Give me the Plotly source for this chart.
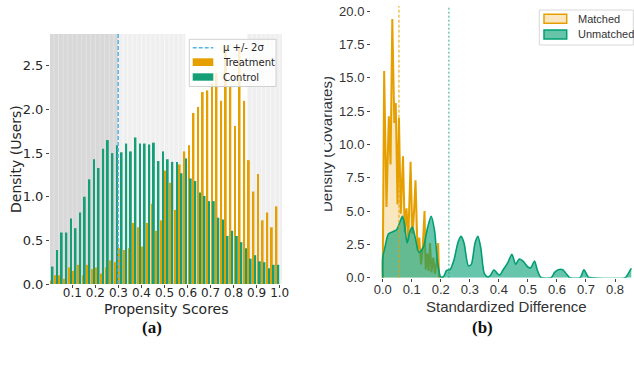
import plotly.graph_objects as go

W, H = 634, 367

# ---------------- Panel (a): propensity score histogram ----------------
bin_edges_start, bin_width, n_bins = 0.0, 0.02, 50
bin_centers = [round(bin_edges_start + bin_width * (i + 0.5), 4) for i in range(n_bins)]

treatment = [0.04, 0.10, 0.10, 0.06, 0.19, 0.15, 0.22, 0.10, 0.22, 0.17,
             0.19, 0.12, 0.19, 0.27, 0.25, 0.41, 0.39, 0.41, 0.70, 0.65,
             0.43, 0.70, 0.92, 0.61, 0.73, 1.30, 1.16, 0.85, 1.37, 1.52,
             1.59, 1.96, 2.03, 2.20, 2.22, 2.30, 2.42, 2.10, 2.73, 2.27,
             1.81, 2.72, 2.10, 1.42, 1.06, 1.26, 0.73, 0.82, 0.65, 0.89]
control = [0.20, 0.39, 0.59, 0.59, 0.75, 0.64, 0.82, 1.00, 1.20, 1.43,
           1.33, 1.55, 1.65, 1.50, 1.59, 1.51, 1.61, 1.52, 1.68, 1.61,
           1.61, 1.60, 1.62, 1.41, 1.52, 1.43, 1.40, 1.40, 1.27, 1.44,
           1.21, 1.18, 1.05, 1.01, 0.95, 0.95, 0.76, 0.74, 0.55, 0.61,
           0.55, 0.48, 0.41, 0.29, 0.33, 0.26, 0.25, 0.18, 0.22, 0.22]

mu_minus_2sigma = 0.299
dark_regions = [(0.0, 0.299)]
light_regions = [(0.299, 0.59), (0.86, 1.02)]
y_ticks_a = [0.0, 0.5, 1.0, 1.5, 2.0, 2.5]
x_ticks_a = [0.1, 0.2, 0.3, 0.4, 0.5, 0.6, 0.7, 0.8, 0.9, 1.0]
x_range_a = [0.003, 1.01]
y_range_a = [0, 2.866]

# ---------------- Panel (b): standardized difference densities ----------------
matched_x = [0.0, 0.005, 0.013, 0.021, 0.027, 0.033, 0.040, 0.045, 0.051, 0.056,
             0.062, 0.070, 0.076, 0.082, 0.088, 0.096, 0.102, 0.108, 0.113, 0.120,
             0.126, 0.132, 0.138, 0.144, 0.148, 0.153, 0.158, 0.163, 0.168, 0.174,
             0.180, 0.186, 0.191, 0.194]
matched_y = [0.0, 15.5, 5.3, 12.1, 8.5, 19.4, 11.6, 13.1, 5.5, 12.0,
             4.8, 9.1, 3.4, 5.2, 2.8, 8.7, 3.3, 5.0, 7.3, 2.0,
             3.0, 1.0, 2.3, 5.0, 0.6, 1.8, 0.5, 2.6, 0.4, 1.5,
             0.3, 1.2, 2.6, 0.0]
unmatched_x = [0.0, 0.0, 0.008, 0.020, 0.035, 0.048, 0.058, 0.068, 0.076, 0.084,
               0.094, 0.102, 0.112, 0.125, 0.140, 0.155, 0.167, 0.178, 0.190, 0.200,
               0.210, 0.220, 0.232, 0.245, 0.260, 0.270, 0.280, 0.295, 0.305, 0.318,
               0.328, 0.338, 0.350, 0.362, 0.372, 0.383, 0.395, 0.403, 0.415, 0.430,
               0.445, 0.458, 0.470, 0.485, 0.500, 0.510, 0.523, 0.532, 0.545, 0.580,
               0.592, 0.605, 0.620, 0.632, 0.645, 0.680, 0.693, 0.708, 0.720, 0.835,
               0.848, 0.856]
unmatched_y = [0.0, 1.5, 2.3, 3.3, 3.45, 3.6, 4.1, 4.6, 3.9, 2.6,
               3.5, 3.8, 3.0, 1.9, 2.3, 3.8, 4.6, 3.6, 1.0, 0.05,
               0.1, 0.55, 0.6, 1.3, 2.7, 3.1, 2.6, 0.9, 1.0, 2.6,
               3.1, 2.2, 0.3, 0.05, 0.2, 0.6, 0.3, 0.2, 0.6, 1.1,
               1.75, 1.0, 1.4, 1.2, 0.8, 0.75, 1.25, 0.6, 0.02, 0.0,
               0.4, 0.6, 0.6, 0.3, 0.0, 0.0, 0.6, 0.05, 0.0, 0.0,
               0.4, 0.7]
matched_mean = 0.056
unmatched_mean = 0.228
x_range_b = [-0.0403, 0.8654]
y_range_b = [0, 20.38]

ORANGE = "#E69F00"
GREEN_BAR = "#149F77"
GREEN = "#009E73"
SKY = "#56B4E9"
TXT = "#262626"


def px(xp):
    return xp / W


def py(yp):
    return 1 - yp / H


fig = go.Figure()

# Panel (a) bars
fig.add_trace(go.Bar(x=bin_centers, y=treatment, name="Treatment", marker=dict(color=ORANGE, line=dict(width=0)),
                     xaxis="x", yaxis="y", showlegend=False))
fig.add_trace(go.Bar(x=bin_centers, y=control, name="Control", marker=dict(color=GREEN_BAR, line=dict(width=0)),
                     xaxis="x", yaxis="y", showlegend=False))
fig.add_trace(go.Scatter(x=[mu_minus_2sigma, mu_minus_2sigma], y=y_range_a, mode="lines", name="μ +/- 2σ",
                         line=dict(color=SKY, width=1.5, dash="4px,2px"), xaxis="x", yaxis="y", showlegend=False))

# Panel (b) densities
fig.add_trace(go.Scatter(x=matched_x, y=matched_y, mode="lines", name="Matched", fill="tozeroy",
                         fillcolor="rgba(230,159,0,0.25)", line=dict(color=ORANGE, width=2),
                         xaxis="x2", yaxis="y2", showlegend=False))
fig.add_trace(go.Scatter(x=unmatched_x, y=unmatched_y, mode="lines", name="Unmatched", fill="tozeroy",
                         fillcolor="rgba(0,158,115,0.6)", line=dict(color=GREEN, width=1.6, shape="spline", smoothing=0.7),
                         xaxis="x2", yaxis="y2", showlegend=False))

shapes = []
# shaded regions with bin stripes (panel a)
for (a, b) in dark_regions:
    shapes.append(dict(type="rect", xref="x", yref="y domain", x0=a, x1=b, y0=0, y1=1,
                       fillcolor="#d8d8d8", line=dict(width=0), layer="below"))
for (a, b) in light_regions:
    shapes.append(dict(type="rect", xref="x", yref="y domain", x0=a, x1=b, y0=0, y1=1,
                       fillcolor="#efefef", line=dict(width=0), layer="below"))
for i in range(n_bins + 1):
    e = bin_edges_start + bin_width * i
    for (a, b) in dark_regions:
        if a < e < b:
            shapes.append(dict(type="line", xref="x", yref="y domain", x0=e, x1=e, y0=0, y1=1,
                               line=dict(color="#e2e2e2", width=1), layer="below"))
    for (a, b) in light_regions:
        if a < e < b:
            shapes.append(dict(type="line", xref="x", yref="y domain", x0=e, x1=e, y0=0, y1=1,
                               line=dict(color="#f7f7f7", width=1), layer="below"))

# mean lines (panel b)
shapes.append(dict(type="line", xref="x2", yref="y2 domain", x0=matched_mean, x1=matched_mean, y0=0, y1=1,
                   line=dict(color=ORANGE, width=1, dash="3px,2px"), layer="above"))
shapes.append(dict(type="line", xref="x2", yref="y2 domain", x0=unmatched_mean, x1=unmatched_mean, y0=0, y1=1,
                   line=dict(color="#2aa886", width=1, dash="2px,2px"), layer="above"))

# legend (a)
shapes.append(dict(type="rect", xref="paper", yref="paper", x0=px(189.3), x1=px(276), y0=py(39.3), y1=py(86.5),
                   fillcolor="rgba(255,255,255,0.8)", line=dict(color="#d0d0d0", width=1), layer="above"))
shapes.append(dict(type="line", xref="paper", yref="paper", x0=px(192.7), x1=px(213.3), y0=py(47.7), y1=py(47.7),
                   line=dict(color=SKY, width=1.5, dash="4px,2px"), layer="above"))
shapes.append(dict(type="rect", xref="paper", yref="paper", x0=px(192.7), x1=px(213.3), y0=py(58.3), y1=py(66),
                   fillcolor=ORANGE, line=dict(width=0), layer="above"))
shapes.append(dict(type="rect", xref="paper", yref="paper", x0=px(192.7), x1=px(213.3), y0=py(73.3), y1=py(80.7),
                   fillcolor=GREEN_BAR, line=dict(width=0), layer="above"))
# legend (b)
shapes.append(dict(type="rect", xref="paper", yref="paper", x0=px(539.3), x1=px(633.3), y0=py(10), y1=py(45),
                   fillcolor="rgba(255,255,255,0.8)", line=dict(color="#d8d8d8", width=1), layer="above"))
shapes.append(dict(type="rect", xref="paper", yref="paper", x0=px(544), x1=px(566.7), y0=py(14.3), y1=py(23.3),
                   fillcolor="#FAE6BF", line=dict(color=ORANGE, width=1.5), layer="above"))
shapes.append(dict(type="rect", xref="paper", yref="paper", x0=px(544), x1=px(566.7), y0=py(30), y1=py(39),
                   fillcolor="#66C4A8", line=dict(color=GREEN, width=1.5), layer="above"))

ann = []
leg_a_font = dict(family="DejaVu Sans", size=10, color=TXT)
for label, yc in [("μ +/- 2σ", 47.7), ("Treatment", 62), ("Control", 77)]:
    ann.append(dict(text=label, xref="paper", yref="paper", x=px(221), y=py(yc), xanchor="left", yanchor="middle",
                    showarrow=False, font=leg_a_font))
leg_b_font = dict(family="Liberation Sans", size=11, color="#333333")
for label, yc in [("Matched", 19), ("Unmatched", 34.3)]:
    ann.append(dict(text=label, xref="paper", yref="paper", x=px(576), y=py(yc), xanchor="left", yanchor="middle",
                    showarrow=False, font=leg_b_font))

# axis titles
ann.append(dict(text="Propensity Scores", xref="paper", yref="paper", x=px(166), y=py(308.5), showarrow=False,
                xanchor="center", yanchor="middle", font=dict(family="DejaVu Sans", size=14, color=TXT)))
ann.append(dict(text="Density (Users)", xref="paper", yref="paper", x=px(16), y=py(159), textangle=-90,
                showarrow=False, xanchor="center", yanchor="middle",
                font=dict(family="DejaVu Sans", size=14, color=TXT)))
ann.append(dict(text="Standardized Difference", xref="paper", yref="paper", x=px(506), y=py(306), showarrow=False,
                xanchor="center", yanchor="middle", font=dict(family="Liberation Sans", size=15, color="#333333")))
# right y title, clipped on its left side like the reference
ann.append(dict(text="Density (Covariates)", xref="paper", yref="paper", x=px(326), y=py(144), textangle=-90,
                xanchor="center", yanchor="middle", showarrow=False,
                font=dict(family="Liberation Sans", size=15, color="#333333")))
ann.append(dict(text=" ", xref="paper", yref="paper", x=px(311), y=py(144), width=26, height=190,
                bgcolor="white", borderpad=0, xanchor="center", yanchor="middle", showarrow=False,
                font=dict(size=10, color="white")))

# panel labels
ann.append(dict(text="<b>(a)</b>", xref="paper", yref="paper", x=px(152), y=py(327.5), showarrow=False,
                xanchor="center", yanchor="middle", font=dict(family="Liberation Serif", size=17, color="#111111")))
ann.append(dict(text="<b>(b)</b>", xref="paper", yref="paper", x=px(482), y=py(327.5), showarrow=False,
                xanchor="center", yanchor="middle", font=dict(family="Liberation Serif", size=17, color="#111111")))

tick_a = dict(family="DejaVu Sans", size=12, color=TXT)
tick_ay = dict(family="DejaVu Sans", size=13, color=TXT)
tick_b = dict(family="Liberation Sans", size=13, color="#333333")

fig.update_layout(
    width=W, height=H, margin=dict(l=0, r=0, t=0, b=0),
    paper_bgcolor="white", plot_bgcolor="white",
    barmode="group", bargap=0.2, bargroupgap=0.0,
    shapes=shapes, annotations=ann, showlegend=False,
    xaxis=dict(domain=[px(50), px(282)], range=x_range_a, tickvals=x_ticks_a,
               ticktext=[f"{v:.1f}" for v in x_ticks_a], showgrid=False, zeroline=False, showline=False,
               ticks="outside", ticklen=3, tickcolor="#444", tickfont=tick_a, automargin=False,
               ticklabelstandoff=-5),
    yaxis=dict(domain=[py(284), py(34)], range=y_range_a, tickvals=y_ticks_a,
               ticktext=[f"{v:.1f}" for v in y_ticks_a], showgrid=False, zeroline=False, showline=False,
               ticks="outside", ticklen=3, tickcolor="#444", tickfont=tick_ay, automargin=False),
    xaxis2=dict(domain=[px(371), 1.0], range=x_range_b, anchor="y2", dtick=0.1, tick0=0, tickformat=".1f",
                showgrid=False, zeroline=False, showline=False, ticks="outside", ticklen=3, tickcolor="#444",
                tickfont=tick_b, automargin=False, ticklabelstandoff=-3),
    yaxis2=dict(domain=[py(277.7), py(6)], range=y_range_b, anchor="x2", dtick=2.5, tick0=0, tickformat=".1f",
                showgrid=False, zeroline=False, showline=False, ticks="outside", ticklen=3, tickcolor="#444",
                tickfont=tick_b, automargin=False),
)

fig.write_html("out.html", config={"displayModeBar": False},
               post_script="document.body.style.margin='0';document.documentElement.style.overflow='hidden';")
